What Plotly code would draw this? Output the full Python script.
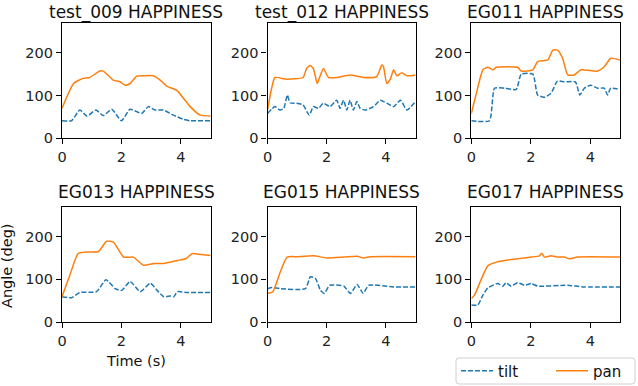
import plotly.graph_objects as go

# ---------------- data (time in s, angle in deg) ----------------
TITLES = ["test_009 HAPPINESS", "test_012 HAPPINESS", "EG011 HAPPINESS",
          "EG013 HAPPINESS", "EG015 HAPPINESS", "EG017 HAPPINESS"]

X_TICKS = [0, 2, 4]
Y_TICKS = [0, 100, 200]

# test_009
T009_PAN_T = [0, 0.39, 0.71, 0.93, 1.27, 1.39, 1.72, 1.95, 2.12, 2.29, 2.51, 2.74, 3.07, 3.3, 3.52, 3.86, 4.09, 4.31, 4.65, 5.0]
T009_PAN_V = [70, 128, 140, 142, 157, 157, 136, 132, 124, 128, 145, 146, 146, 136, 122, 112, 93, 74, 54, 52]
T009_TILT_T = [0, 0.32, 0.6, 0.84, 1.14, 1.39, 1.67, 2.0, 2.29, 2.68, 2.9, 3.13, 3.41, 3.75, 4.09, 4.31, 5.0]
T009_TILT_V = [41, 41, 66, 52, 66, 53, 68, 41, 68, 58, 74, 66, 66, 54, 44, 41, 41]

# test_012
T012_PAN_T = [0, 0.14, 0.25, 0.64, 1.2, 1.32, 1.44, 1.55, 1.68, 1.77, 1.89, 2.06, 2.34, 2.79, 3.24, 3.69, 3.86, 3.92, 4.03, 4.15, 4.26, 4.37, 4.54, 4.71, 5.0]
T012_PAN_V = [66, 117, 142, 138, 142, 163, 170, 163, 128, 144, 163, 142, 142, 148, 142, 144, 171, 167, 128, 138, 160, 146, 153, 146, 148]
T012_TILT_T = [0, 0.25, 0.42, 0.55, 0.67, 0.76, 0.98, 1.2, 1.41, 1.55, 1.72, 1.89, 2.11, 2.34, 2.45, 2.57, 2.68, 2.79, 2.9, 3.02, 3.13, 3.3, 3.58, 3.81, 4.03, 4.26, 4.49, 4.71, 5.0]
T012_TILT_V = [58, 74, 66, 70, 101, 83, 82, 78, 54, 74, 70, 82, 74, 89, 70, 89, 66, 89, 66, 86, 70, 66, 74, 89, 82, 74, 89, 66, 86]

# EG011
EG011_PAN_T = [0, 0.17, 0.39, 0.56, 0.73, 0.84, 1.56, 1.68, 2.07, 2.23, 2.57, 2.74, 2.9, 3.07, 3.24, 3.46, 3.69, 4.25, 4.47, 4.69, 5.0]
EG011_PAN_V = [58, 105, 160, 166, 160, 166, 166, 157, 160, 179, 183, 206, 206, 187, 148, 148, 160, 157, 167, 187, 183]
EG011_TILT_T = [0, 0.61, 0.78, 1.12, 1.51, 1.68, 2.07, 2.23, 2.46, 2.68, 2.9, 3.13, 3.5, 3.65, 3.8, 4.02, 4.25, 4.47, 4.58, 4.69, 5.0]
EG011_TILT_V = [41, 41, 117, 117, 114, 150, 150, 101, 96, 105, 134, 132, 132, 101, 117, 124, 117, 117, 101, 117, 114]

# EG013
EG013_PAN_T = [0, 0.26, 0.54, 0.82, 1.22, 1.5, 1.73, 2.07, 2.4, 2.74, 3.08, 3.42, 3.88, 4.16, 4.38, 4.67, 5.0]
EG013_PAN_V = [59, 109, 160, 164, 165, 189, 187, 152, 152, 133, 137, 137, 144, 148, 160, 158, 156]
EG013_TILT_T = [0, 0.32, 0.6, 1.16, 1.48, 1.79, 2.01, 2.29, 2.63, 2.97, 3.2, 3.42, 3.65, 3.76, 3.88, 4.21, 5.0]
EG013_TILT_V = [59, 57, 69, 71, 99, 78, 74, 95, 71, 91, 74, 59, 61, 59, 71, 69, 69]

# EG015
EG015_PAN_T = [0, 0.18, 0.43, 0.66, 1.0, 1.56, 2.01, 2.58, 3.03, 3.25, 3.48, 5.0]
EG015_PAN_V = [67, 71, 117, 152, 153, 155, 150, 152, 154, 150, 153, 153]
EG015_TILT_T = [0, 0.15, 0.43, 1.28, 1.45, 1.62, 1.79, 1.92, 2.1, 2.58, 2.8, 3.03, 3.23, 3.42, 4.27, 5.0]
EG015_TILT_V = [78, 81, 78, 78, 106, 102, 74, 67, 86, 84, 67, 88, 67, 86, 82, 82]

# EG017
EG017_PAN_T = [0, 0.11, 0.34, 0.56, 0.89, 1.12, 1.56, 2.01, 2.29, 2.37, 2.46, 2.68, 2.9, 3.13, 3.3, 3.58, 5.0]
EG017_PAN_V = [55, 63, 101, 132, 141, 144, 148, 152, 155, 161, 152, 155, 152, 152, 148, 152, 152]
EG017_TILT_T = [0, 0.22, 0.39, 0.56, 0.89, 1.06, 1.17, 1.34, 1.56, 1.79, 2.01, 2.23, 3.24, 3.8, 5.0]
EG017_TILT_V = [40, 40, 63, 80, 90, 84, 92, 84, 92, 86, 90, 84, 86, 82, 82]

TILT_T = [T009_TILT_T, T012_TILT_T, EG011_TILT_T, EG013_TILT_T, EG015_TILT_T, EG017_TILT_T]
TILT_V = [T009_TILT_V, T012_TILT_V, EG011_TILT_V, EG013_TILT_V, EG015_TILT_V, EG017_TILT_V]
PAN_T = [T009_PAN_T, T012_PAN_T, EG011_PAN_T, EG013_PAN_T, EG015_PAN_T, EG017_PAN_T]
PAN_V = [T009_PAN_V, T012_PAN_V, EG011_PAN_V, EG013_PAN_V, EG015_PAN_V, EG017_PAN_V]

# ---------------- layout ----------------
W, H = 638, 386
FONT = "DejaVu Sans"
BLUE = "#1f77b4"
ORANGE = "#ff7f0e"

COLS_PX = [(62, 210.7), (267.5, 415.5), (471.3, 620)]
ROWS_PX = [(22.7, 138.3), (206.7, 322)]
TITLE_Y_PX = [0, 180]  # top of title text box

fig = go.Figure()
annotations = []
for i in range(6):
    r, c = divmod(i, 3)
    n = i + 1
    xa = "x" if n == 1 else f"x{n}"
    ya = "y" if n == 1 else f"y{n}"
    fig.add_trace(go.Scatter(
        x=TILT_T[i], y=TILT_V[i], mode="lines", name="tilt",
        line=dict(color=BLUE, width=1.5, dash="5px,2px", shape="spline", smoothing=0.5),
        xaxis=xa, yaxis=ya, showlegend=(i == 0), legendrank=1))
    fig.add_trace(go.Scatter(
        x=PAN_T[i], y=PAN_V[i], mode="lines", name="pan",
        line=dict(color=ORANGE, width=1.5, shape="spline", smoothing=0.5),
        xaxis=xa, yaxis=ya, showlegend=(i == 0), legendrank=2))
    x0, x1 = COLS_PX[c]
    t0, t1 = ROWS_PX[r]
    axis_common = dict(showline=True, linecolor="black", linewidth=1.2, mirror=True,
                       ticks="outside", ticklen=5, tickwidth=1.2, tickcolor="black",
                       showgrid=False, zeroline=False,
                       tickfont=dict(family=FONT, size=14.5, color="#222"))
    fig.layout[f"xaxis{'' if n == 1 else n}"] = dict(
        domain=[x0 / W, x1 / W], range=[0, 5], tickvals=X_TICKS,
        anchor=ya, **axis_common)
    fig.layout[f"yaxis{'' if n == 1 else n}"] = dict(
        domain=[1 - t1 / H, 1 - t0 / H], range=[0, 270], tickvals=Y_TICKS,
        anchor=xa, **axis_common)
    annotations.append(dict(
        text=TITLES[i], x=(x0 + x1) / 2 / W, y=1 - TITLE_Y_PX[r] / H,
        xref="paper", yref="paper", xanchor="center", yanchor="top",
        showarrow=False, font=dict(family=FONT, size=17, color="#111")))

annotations.append(dict(text="Angle (deg)", x=7 / W, y=1 - 266 / H, xref="paper", yref="paper",
                        textangle=-90, xanchor="center", yanchor="middle", showarrow=False,
                        font=dict(family=FONT, size=14.5, color="#111")))
annotations.append(dict(text="Time (s)", x=135.5 / W, y=1 - 361 / H, xref="paper", yref="paper",
                        xanchor="center", yanchor="middle", showarrow=False,
                        font=dict(family=FONT, size=14.5, color="#111")))

# rounded legend frame (matplotlib style)
LX0, LX1, LY0, LY1, RAD = 456, 635, 358, 384, 3
def px(x):
    return x / W
def py(y):
    return 1 - y / H
frame_path = (
    f"M {px(LX0 + RAD)},{py(LY0)} L {px(LX1 - RAD)},{py(LY0)} "
    f"Q {px(LX1)},{py(LY0)} {px(LX1)},{py(LY0 + RAD)} "
    f"L {px(LX1)},{py(LY1 - RAD)} Q {px(LX1)},{py(LY1)} {px(LX1 - RAD)},{py(LY1)} "
    f"L {px(LX0 + RAD)},{py(LY1)} Q {px(LX0)},{py(LY1)} {px(LX0)},{py(LY1 - RAD)} "
    f"L {px(LX0)},{py(LY0 + RAD)} Q {px(LX0)},{py(LY0)} {px(LX0 + RAD)},{py(LY0)} Z"
)

fig.update_layout(
    width=W, height=H, margin=dict(l=0, r=0, t=0, b=0, autoexpand=False),
    paper_bgcolor="white", plot_bgcolor="white",
    annotations=annotations,
    shapes=[dict(type="path", path=frame_path, xref="paper", yref="paper",
                 line=dict(color="#d0d0d0", width=1), fillcolor="white", layer="above")],
    legend=dict(orientation="h", x=456 / W, y=1 - 371 / H, xanchor="left", yanchor="middle",
                borderwidth=0, bgcolor="rgba(0,0,0,0)",
                font=dict(family=FONT, size=15, color="#111"),
                itemwidth=32, entrywidth=48, tracegroupgap=0),
)

fig.write_html("out.html", config={"displayModeBar": False},
               post_script="document.body.style.margin='0';")
